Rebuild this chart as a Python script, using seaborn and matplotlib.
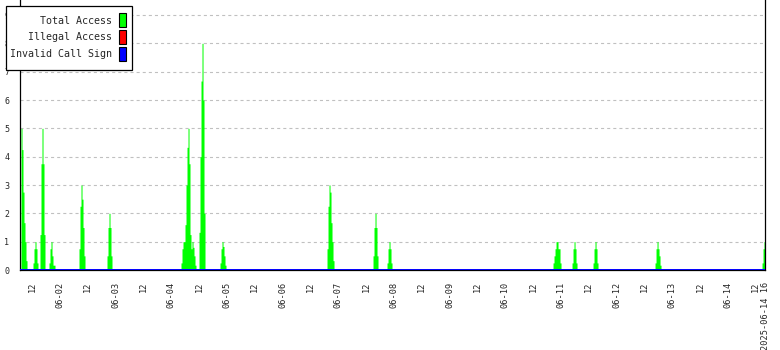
import numpy as np
import pandas as pd
import matplotlib
matplotlib.use("Agg")
import matplotlib.pyplot as plt
from matplotlib.patches import Patch, Rectangle
import seaborn as sns

# ---------------- data (time in hours since 2025-06-01 00:00) ----------------
X_START = 6.76
X_END = 328.0
STEP = 0.4311  # one sample period in hours

burst_start = [7.19, 12.36, 15.38, 19.26, 32.19, 44.27, 76.17, 83.93, 92.98,
               139.11, 158.94, 164.97, 236.54, 244.73, 253.78, 280.51, 326.64]
burst_values = [
    [5.0, 4.25, 2.75, 1.67, 1.0, 0.33],
    [0.25, 0.75, 1.0, 0.75, 0.25],
    [1.25, 3.75, 5.0, 3.75, 1.25],
    [0.25, 0.75, 1.0, 0.5, 0.17, 0.17],
    [0.75, 2.25, 3.0, 2.5, 1.5, 0.5],
    [0.5, 1.5, 2.0, 1.5, 0.5],
    [0.25, 0.75, 1.0, 1.0, 1.6, 3.0, 4.33, 5.0, 3.75, 1.25, 0.75, 1.0, 0.8, 0.5, 0.17],
    [1.33, 4.0, 6.67, 8.0, 6.0, 2.0],
    [0.25, 0.75, 1.0, 0.83, 0.5, 0.17],
    [0.75, 2.25, 3.0, 2.75, 1.67, 1.0, 0.33],
    [0.5, 1.5, 2.0, 1.5, 0.5],
    [0.25, 0.75, 1.0, 0.75, 0.25],
    [0.25, 0.5, 0.75, 1.0, 1.0, 0.75, 0.75, 0.25],
    [0.25, 0.75, 1.0, 0.75, 0.25],
    [0.25, 0.75, 1.0, 0.75, 0.25],
    [0.25, 0.75, 1.0, 0.75, 0.5, 0.17],
    [0.25, 0.75, 1.0],
]
illegal_values = [0.0, 0.0]
invalid_values = [0.0, 0.0]

series_names = ["Total Access", "Illegal Access", "Invalid Call Sign"]
series_colors = ["#00ff00", "#ff0000", "#0000ff"]

tick_mark_hours = [27.0 + 19.92 * k for k in range(16)]
label_hours = [12, 24, 36, 48, 60, 72, 84, 96, 108, 120, 132, 144, 156, 168,
               180, 192, 204, 216, 228, 240, 252, 264, 276, 288, 300, 312, 324, 328]
label_texts = ["12", "06-02", "12", "06-03", "12", "06-04", "12", "06-05",
               "12", "06-06", "12", "06-07", "12", "06-08", "12", "06-09",
               "12", "06-10", "12", "06-11", "12", "06-12", "12", "06-13",
               "12", "06-14", "12", "2025-06-14 16"]
y_ticks = [0, 1, 2, 3, 4, 5, 6, 7, 8, 9]

# ---------------- build table ----------------
rows = []
for s, vals in zip(burst_start, burst_values):
    for i, v in enumerate(vals):
        rows.append({"t": s + (i + 0.5) * STEP, "v": v})
df = pd.DataFrame(rows)
n_bins = int(np.ceil((X_END - X_START) / STEP)) + 1

sns.set_style("white")
plt.rcParams["font.family"] = ["DejaVu Sans Mono"]
plt.rcParams["lines.scale_dashes"] = False

W, H = 780, 350
fig = plt.figure(figsize=(W / 100, H / 100), dpi=100)
ax = fig.add_axes([20 / W, 80 / H, 745.2 / W, 270 / H])

# gridlines
for yv in y_ticks[1:]:
    ax.axhline(yv, color="#c0c0c0", lw=0.8, dashes=(2.2, 2.2), zorder=0.5)

sns.histplot(data=df, x="t", weights="v", binwidth=STEP,
             binrange=(X_START, X_START + n_bins * STEP), element="step",
             fill=True, color=series_colors[0], alpha=1, linewidth=0, ax=ax,
             zorder=2, antialiased=False)

line_x = [X_START, X_END]
sns.lineplot(x=line_x, y=illegal_values, color=series_colors[1], lw=1.0, ax=ax,
             zorder=3)
sns.lineplot(x=line_x, y=invalid_values, color=series_colors[2], lw=1.4, ax=ax,
             zorder=4)

ax.set_xlim(X_START, X_END)
ax.set_ylim(0, 9.53)
ax.set_xlabel("")
ax.set_ylabel("")

ax.set_xticks(tick_mark_hours)
ax.set_xticklabels([])
ax.set_xticks(label_hours, minor=True)
ax.set_xticklabels(label_texts, minor=True, rotation=90, fontsize=6.2)
ax.tick_params(axis="x", which="major", direction="inout", length=6.5,
               width=0.9, color="black")
ax.tick_params(axis="x", which="minor", length=0, pad=8.2)

ax.set_yticks(y_ticks)
ax.set_yticklabels([str(v) for v in y_ticks], fontsize=6)
ax.tick_params(axis="y", direction="inout", length=5.8, width=0.9,
               color="black", pad=4.8)

for side in ["left", "right", "bottom"]:
    ax.spines[side].set_visible(True)
    ax.spines[side].set_color("black")
    ax.spines[side].set_linewidth(0.9)
ax.spines["top"].set_visible(False)

# legend frame (drawn separately for exact box)
frame = Rectangle((5.5 / W, 1 - 69.5 / H), 126.5 / W, 64 / H,
                  transform=fig.transFigure, facecolor="white",
                  edgecolor="black", linewidth=0.9, zorder=9)
fig.patches.append(frame)

handles = [Patch(facecolor=c, edgecolor="black", linewidth=0.8) for c in series_colors]
leg = fig.legend(handles, series_names, loc="upper right",
                 bbox_to_anchor=(126 / W, 1 - 13.5 / H), borderaxespad=0,
                 markerfirst=False, fontsize=7.2, frameon=False,
                 handlelength=0.7, handleheight=1.75, handletextpad=0.7,
                 labelspacing=0.3, borderpad=0.0)
leg.set_zorder(10)

fig.savefig("out.png", dpi=100)
